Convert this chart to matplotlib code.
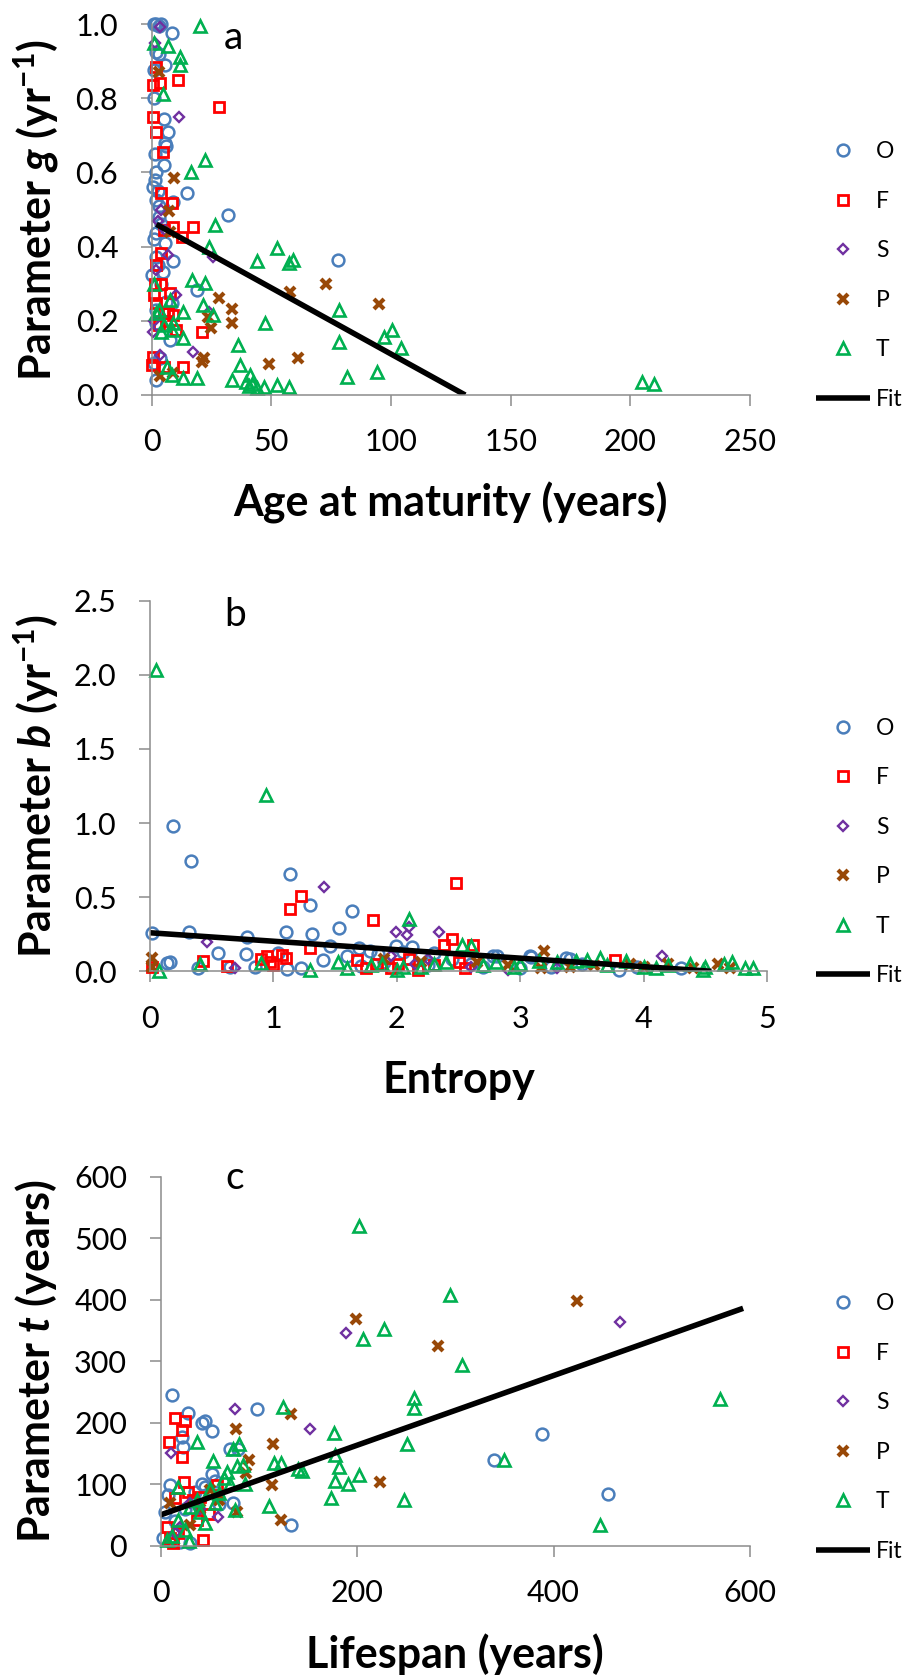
import matplotlib
matplotlib.use("Agg")
import matplotlib.pyplot as plt
from matplotlib.lines import Line2D
from matplotlib.ticker import FormatStrFormatter

plt.rcParams['font.family'] = ['Lato', 'DejaVu Sans']
plt.rcParams['mathtext.fontset'] = 'custom'
plt.rcParams['mathtext.rm'] = 'Lato:bold'
plt.rcParams['mathtext.bf'] = 'Lato:bold'
plt.rcParams['mathtext.it'] = 'Lato:italic:bold'
try:
    plt.rcParams['mathtext.bfit'] = 'Lato:italic:bold'
except KeyError:
    pass

series_names = ['O', 'F', 'S', 'P', 'T']

# panel a: age at maturity vs parameter g
a_O_x = [1, 2, 3, 4, 8.4, 2, 1, 5.5, 1, 5, 7, 5.6, 5, 2, 1.4, 0.7, 14.6, 2, 3, 9, 32, 2, 1, 5.6, 2, 9, 0, 4.9,
         18.8, 78, 2, 8.4, 2, 7.7, 2, 1, 3, 4, 2.5, 6, 3.5, 1.5, 6, 3, 2.5, 4]
a_O_y = [1.0, 1.0, 0.995, 1.0, 0.977, 0.925, 0.876, 0.89, 0.80, 0.745, 0.71, 0.68, 0.62, 0.60, 0.58, 0.56, 0.544,
         0.525, 0.51, 0.52, 0.485, 0.436, 0.42, 0.41, 0.373, 0.36, 0.323, 0.332, 0.283, 0.364, 0.23, 0.247, 0.193,
         0.148, 0.04, 0.085, 0.48, 0.46, 0.35, 0.25, 0.10, 0.65, 0.67, 0.92, 0.55, 0.30]
a_F_x = [2, 0.7, 3.5, 11, 28, 0.5, 2, 4.6, 4, 8.4, 5, 12.5, 17.4, 9, 4, 2, 1.4, 4, 2, 7.7, 5, 9, 6, 10, 21,
         0.5, 0, 5, 13, 1, 3, 7]
a_F_y = [0.885, 0.836, 0.84, 0.85, 0.777, 0.75, 0.71, 0.656, 0.545, 0.518, 0.445, 0.427, 0.454, 0.454, 0.382,
         0.35, 0.30, 0.30, 0.247, 0.274, 0.22, 0.216, 0.2, 0.175, 0.171, 0.103, 0.08, 0.076, 0.076, 0.27, 0.19, 0.22]
a_S_x = [3.5, 1.4, 11.4, 2.8, 5.7, 7, 25.7, 10.4, 0.7, 17.4, 3.5, 2, 4, 1, 24]
a_S_y = [0.993, 0.95, 0.75, 0.47, 0.445, 0.377, 0.373, 0.27, 0.17, 0.117, 0.108, 0.337, 0.5, 0.2, 0.225]
a_P_x = [3.2, 9.3, 7.4, 28.3, 33.4, 33.4, 23.7, 25, 21.9, 49, 61, 58, 73, 95, 3.5, 9, 21, 7.5]
a_P_y = [0.87, 0.584, 0.497, 0.262, 0.231, 0.193, 0.211, 0.18, 0.099, 0.084, 0.099, 0.278, 0.299, 0.245,
         0.05, 0.058, 0.09, 0.44]
a_T_x = [20.2, 1, 7, 11.8, 11.8, 4.9, 22.3, 16.4, 26.5, 24, 1, 17, 22.4, 7.7, 21.4, 25.8, 13, 2, 9, 8.4, 4, 13,
         47.3, 36.2, 37, 6.3, 8.4, 13, 18.8, 33.4, 39.5, 40.5, 41, 42, 44, 46.8, 52.4, 57.6, 44.1, 52.4, 57.4,
         59.2, 78.3, 78.3, 81.5, 94, 97, 100.5, 104.4, 205, 210, 3, 5]
a_T_y = [0.995, 0.95, 0.94, 0.91, 0.89, 0.81, 0.633, 0.6, 0.458, 0.4, 0.3, 0.31, 0.303, 0.256, 0.243, 0.216,
         0.225, 0.22, 0.193, 0.175, 0.17, 0.153, 0.195, 0.135, 0.081, 0.076, 0.054, 0.045, 0.045, 0.04, 0.035,
         0.025, 0.054, 0.03, 0.02, 0.022, 0.027, 0.022, 0.36, 0.395, 0.355, 0.364, 0.229, 0.144, 0.049, 0.063,
         0.157, 0.175, 0.126, 0.036, 0.03, 0.23, 0.19]
a_fit_x = [2, 131]
a_fit_y = [0.46, 0.0]

# panel b: entropy vs parameter b
b_O_x = [0.19, 0.33, 1.135, 1.3, 1.64, 1.53, 0.02, 0.32, 0.79, 1.1, 1.31, 0.55, 0.78, 1.46, 1.69, 1.99, 2.12,
         0.135, 0.16, 0.39, 0.65, 1.11, 1.22, 1.4, 1.04, 1.71, 2.3, 2.81, 3.09, 3.4, 3.37, 2.78, 3.08, 1.78, 2.05,
         2.2, 2.45, 2.6, 2.7, 3.0, 3.25, 3.5, 3.8, 3.95, 4.3, 1.9, 2.25, 1.6, 0.85, 1.85]
b_O_y = [0.98, 0.743, 0.654, 0.447, 0.408, 0.29, 0.256, 0.267, 0.234, 0.267, 0.252, 0.125, 0.118, 0.17, 0.155,
         0.17, 0.166, 0.053, 0.06, 0.02, 0.03, 0.016, 0.025, 0.076, 0.125, 0.035, 0.125, 0.1, 0.094, 0.08, 0.09,
         0.1, 0.1, 0.14, 0.13, 0.1, 0.08, 0.05, 0.03, 0.02, 0.03, 0.05, 0.01, 0.03, 0.02, 0.06, 0.04, 0.1, 0.03, 0.12]
b_F_x = [1.135, 1.225, 1.81, 0.43, 0.62, 0.97, 1.0, 1.07, 1.1, 1.3, 1.68, 1.84, 2.01, 2.17, 2.48, 2.45, 2.38,
         2.5, 2.62, 3.77, 0.02, 0.9, 1.95, 2.1, 2.3, 2.55, 1.75, 0.95]
b_F_y = [0.418, 0.507, 0.345, 0.072, 0.038, 0.06, 0.04, 0.11, 0.09, 0.155, 0.076, 0.05, 0.05, 0.01, 0.597, 0.22,
         0.18, 0.06, 0.178, 0.076, 0.03, 0.08, 0.02, 0.08, 0.04, 0.02, 0.02, 0.1]
b_S_x = [0.465, 0.69, 1.41, 1.99, 2.08, 2.1, 2.34, 4.15, 2.25, 2.6, 2.9, 3.3, 1.95, 2.15]
b_S_y = [0.2, 0.02, 0.571, 0.263, 0.245, 0.3, 0.263, 0.105, 0.08, 0.03, 0.01, 0.02, 0.1, 0.05]
b_P_x = [0.02, 0.02, 3.19, 3.17, 3.89, 4.6, 4.4, 2.65, 2.9, 3.6, 4.0, 4.2, 4.7, 3.4, 1.9, 2.2]
b_P_y = [0.09, 0.03, 0.14, 0.02, 0.05, 0.05, 0.02, 0.06, 0.04, 0.04, 0.03, 0.05, 0.02, 0.03, 0.08, 0.06]
b_T_x = [0.045, 0.94, 0.075, 0.405, 0.9, 1.52, 1.79, 2.0, 2.1, 2.53, 2.6, 3.65, 3.54, 3.86, 4.72, 4.82, 4.89,
         4.38, 4.65, 1.88, 2.2, 2.3, 2.4, 2.7, 2.8, 3.0, 3.15, 3.3, 3.45, 3.7, 4.0, 4.1, 4.2, 4.5, 4.48, 2.95,
         1.6, 2.05, 1.3]
b_T_y = [2.03, 1.19, 0.0, 0.05, 0.058, 0.064, 0.04, 0.01, 0.35, 0.18, 0.17, 0.087, 0.075, 0.07, 0.065, 0.02,
         0.02, 0.05, 0.05, 0.05, 0.03, 0.05, 0.06, 0.04, 0.06, 0.05, 0.07, 0.06, 0.07, 0.04, 0.03, 0.02, 0.04,
         0.03, 0.01, 0.03, 0.02, 0.03, 0.01]
b_fit_x = [0, 4.55]
b_fit_y = [0.26, 0.0]

# panel c: lifespan vs parameter t
c_O_x = [388, 339, 455, 133, 98.5, 11.4, 28.3, 41.9, 45.3, 52, 21.6, 23.3, 9.7, 8, 41.9, 52, 74, 2.9, 10, 20,
         30, 70.8, 79, 45, 35, 5, 15, 55, 60, 25]
c_O_y = [181.7, 139, 84, 33, 221.7, 245, 215, 199.4, 202, 185.7, 177, 161, 99, 82.5, 101, 117, 69, 12, 8, 6,
         5, 158, 158, 95, 88, 55, 40, 105, 67, 60]
c_F_x = [14.8, 25, 21.5, 9, 21.6, 24.3, 14.8, 33.4, 49.7, 43.6, 37, 6.3, 9.7, 13, 57, 18, 28, 40]
c_F_y = [207, 202, 188, 168, 145, 104, 77, 74, 52, 9, 42, 30, 12, 4, 99, 20, 88, 80]
c_S_x = [10.3, 75.9, 152, 58.9, 468, 188.5, 20, 30, 15, 40]
c_S_y = [150, 222, 190, 46, 363, 346, 30, 70, 20, 60]
c_P_x = [424, 199, 282, 133, 115, 77, 223, 113, 123, 90.5, 87, 78, 9.7, 30, 50, 60, 40]
c_P_y = [398, 368, 325, 214, 166, 190, 104, 98, 42, 139, 118, 55, 69, 34, 90, 75, 60]
c_T_x = [202, 295, 227, 206, 307, 258, 258, 569, 125, 177, 250.6, 178, 182, 178, 191, 202, 174, 248, 350, 447,
         110, 144, 140, 123, 36.8, 53.8, 74.2, 80.3, 115.6, 67.4, 78.3, 84.4, 86, 70.8, 50.4, 18, 36.8, 30, 45.3,
         75.9, 6.3, 29.4, 18, 60, 65, 40, 25, 12, 55]
c_T_y = [520, 408, 352, 336, 294, 240, 224, 238, 226, 184, 166, 147, 128, 106, 101, 115, 77.5, 74, 140, 34,
         64, 122, 125, 135, 168, 137.5, 158, 166, 135, 120, 129.7, 131, 101, 101, 93, 96, 74, 63, 37, 58.3, 9,
         7, 42, 85, 110, 55, 25, 15, 70]
c_fit_x = [0, 593]
c_fit_y = [50, 386]

styles = {
    'O': dict(marker='o', ms=8.5, mew=1.8, mfc='none', mec='#4a7ebb'),
    'F': dict(marker='s', ms=7.5, mew=2.0, mfc='none', mec='#ff0000'),
    'S': dict(marker='D', ms=5.5, mew=1.7, mfc='none', mec='#7030a0'),
    'P': dict(marker='x', ms=7, mew=3, mec='#984807'),
    'T': dict(marker='^', ms=8.5, mew=1.9, mfc='none', mec='#00b050'),
}

W, H = 906, 1678


def draw_panel(fig, box, xs, ys, fit, xlim, xstep, ylim, ystep, yfmt, ylabel, xlabel, letter,
               letter_pos, ylabel_x, legend_y):
    left, right, top, bottom = box
    ax = fig.add_axes([left / W, 1 - bottom / H, (right - left) / W, (bottom - top) / H])
    for name, x, y in zip(series_names, xs, ys):
        ax.plot(x, y, linestyle='none', clip_on=False, label=name, **styles[name])
    ax.plot(fit[0], fit[1], color='black', lw=4.0, solid_capstyle='butt', label='Fit')

    ax.set_xlim(xlim)
    ax.set_ylim(ylim)
    ax.set_xticks([xlim[0] + i * xstep for i in range(int(round((xlim[1] - xlim[0]) / xstep)) + 1)])
    ax.set_yticks([ylim[0] + i * ystep for i in range(int(round((ylim[1] - ylim[0]) / ystep)) + 1)])
    ax.yaxis.set_major_formatter(FormatStrFormatter(yfmt))
    for s in ['top', 'right']:
        ax.spines[s].set_visible(False)
    for s in ['left', 'bottom']:
        ax.spines[s].set_color('#8c8c8c')
        ax.spines[s].set_linewidth(1.1)
    ax.tick_params(direction='out', length=8, width=1.1, color='#8c8c8c', labelsize=22, pad=16)

    ax.set_xlabel(xlabel, fontsize=31, fontweight='bold')
    ax.xaxis.set_label_coords(0.5, -(122 / (bottom - top)))
    ax.xaxis.label.set_va('baseline')
    ax.set_ylabel(ylabel, fontsize=31, fontweight='bold')
    ax.yaxis.set_label_coords((ylabel_x - left) / (right - left), 0.5)
    ax.yaxis.label.set_va('center')

    ax.text((letter_pos[0] - left) / (right - left), (bottom - letter_pos[1]) / (bottom - top), letter,
            transform=ax.transAxes, fontsize=28, ha='center', va='center')

    handles = [Line2D([], [], linestyle='none', **styles[n]) for n in series_names]
    handles.append(Line2D([], [], color='black', lw=4.0, solid_capstyle='butt'))
    ax.legend(handles, series_names + ['Fit'], loc='center left', bbox_to_anchor=(816 / W, 1 - legend_y / H),
              bbox_transform=fig.transFigure, frameon=False, fontsize=16.5, handlelength=2.36,
              handletextpad=0.25, labelspacing=1.24, borderpad=0, borderaxespad=0, numpoints=1)
    return ax


def main():
    fig = plt.figure(figsize=(W / 100, H / 100), dpi=100)

    draw_panel(fig, (151.6, 750, 24, 395),
               [a_O_x, a_F_x, a_S_x, a_P_x, a_T_x], [a_O_y, a_F_y, a_S_y, a_P_y, a_T_y], (a_fit_x, a_fit_y),
               (0, 250), 50, (0, 1.0), 0.2, '%.1f',
               r'Parameter $\mathbfit{g}$ (yr$^{\mathbf{-1}}$)', 'Age at maturity (years)', 'a',
               (233, 38), 36, 275.5)

    draw_panel(fig, (150, 767, 600.7, 971.3),
               [b_O_x, b_F_x, b_S_x, b_P_x, b_T_x], [b_O_y, b_F_y, b_S_y, b_P_y, b_T_y], (b_fit_x, b_fit_y),
               (0, 5), 1, (0, 2.5), 0.5, '%.1f',
               r'Parameter $\mathbfit{b}$ (yr$^{\mathbf{-1}}$)', 'Entropy', 'b',
               (235, 615), 36, 852)

    draw_panel(fig, (160.5, 750, 1176.7, 1545.7),
               [c_O_x, c_F_x, c_S_x, c_P_x, c_T_x], [c_O_y, c_F_y, c_S_y, c_P_y, c_T_y], (c_fit_x, c_fit_y),
               (0, 600), 200, (0, 600), 100, '%d',
               r'Parameter $\mathbfit{t}$ (years)', 'Lifespan (years)', 'c',
               (235, 1178), 36, 1427.5)

    fig.savefig('out.png', dpi=100)


if __name__ == "__main__":
    main()
